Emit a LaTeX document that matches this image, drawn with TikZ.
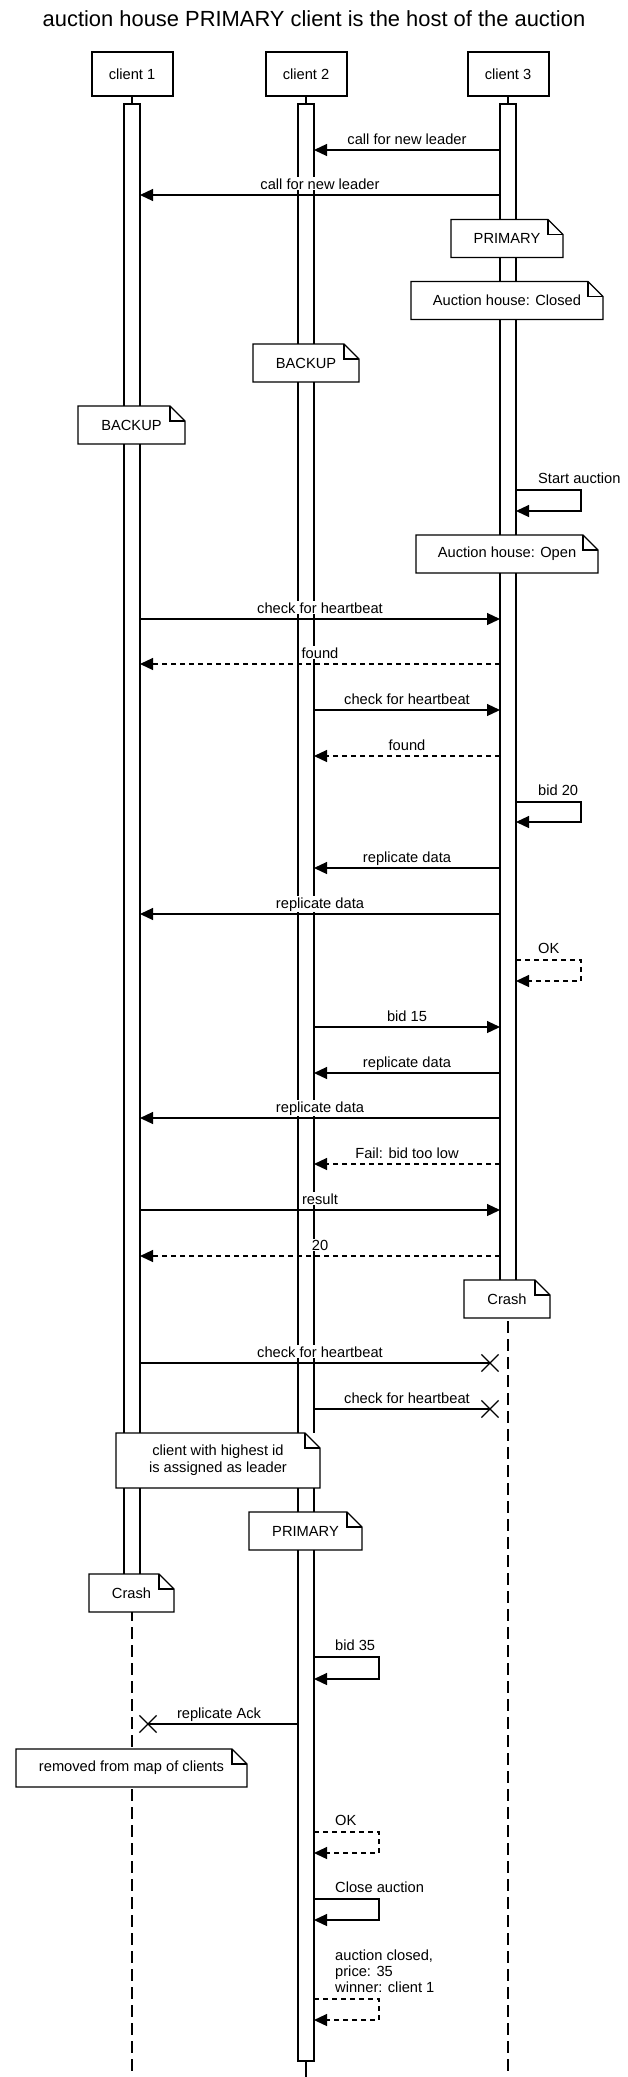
\documentclass[tikz,border=0pt]{standalone}
\usepackage{fontspec}
\setmainfont{Liberation Sans}
\usetikzlibrary{arrows.meta,calc,shapes.misc}
\tikzset{
  txt/.style={font=\fontsize{14.67}{17}\selectfont},
  lbl/.style={txt, fill=white, inner sep=1pt, anchor=base},
  notebox/.style={txt, rectangle, fill=white, draw=none, inner sep=0pt, outer sep=0pt, align=center},
  noteline/.style={line width=1.2pt, line join=miter},
  head/.style={txt, rectangle, draw, line width=2pt, minimum width=81pt, minimum height=44pt, fill=white},
  bar/.style={rectangle, draw, fill=white, line width=1.2pt, minimum width=16pt, inner sep=0pt, outer sep=0pt, anchor=north},
  msg/.style={line width=1.2pt, -{Triangle[length=13pt,width=12pt]}},
  ret/.style={msg, dash pattern=on 5pt off 4pt},
  plain/.style={line width=1.2pt},
  life/.style={line width=1.2pt, dash pattern=on 12pt off 6pt},
  xmark/.style={cross out, draw, line width=1.2pt, minimum size=16pt, inner sep=0pt},
  selflbl/.style={txt, anchor=base west, inner sep=0pt, align=left},
}
\newcommand\mynote[6]{%
  \node[notebox, minimum width=#4pt, minimum height=#5pt] (#1) at (#2,#3) {#6};
  \draw[noteline] (#1.north west) -- ([xshift=-15pt]#1.north east) -- ([yshift=-15pt]#1.north east) -- (#1.south east) -- (#1.south west) -- cycle;
  \draw[noteline] ([xshift=-15pt]#1.north east) |- ([yshift=-15pt]#1.north east);
}
\begin{document}
\begin{tikzpicture}[x=1pt,y=-1pt]
\useasboundingbox (0,0) rectangle (628,2077);
\fill[white] (0,0) rectangle (628,2077);
\node[font=\fontsize{21.9}{26}\selectfont, anchor=base, inner sep=0pt] (title) at (314,26) {auction house PRIMARY client is the host of the auction};

% heads
\node[head] (c1h) at (132,74) {client 1};
\node[head] (c2h) at (306,74) {client 2};
\node[head] (c3h) at (508,74) {client 3};

% lifelines
\coordinate (c1end) at (132,2077);
\coordinate (c2end) at (306,2077);
\coordinate (c3end) at (508,2077);
\draw[life] (c1h.south) -- (c1end);
\draw[life] (c3h.south) -- (c3end);

% activation bars
\node[bar, minimum height=1486pt] (c1bar) at (132,104) {};
\node[bar, minimum height=1957pt] (c2bar) at (306,104) {};
\node[bar, minimum height=1196pt] (c3bar) at (508,104) {};
\draw[plain] (c2h.south) -- (c2bar.north);
\draw[plain] (c2bar.south) -- (c2end);

% notes
\mynote{n1}{507}{238.5}{112}{38}{PRIMARY}
\mynote{n2}{507}{300.5}{192}{38}{Auction house: Closed}
\mynote{n3}{306}{363}{106}{38}{BACKUP}
\mynote{n4}{131.5}{425}{107}{38}{BACKUP}
\mynote{n5}{507}{554}{182}{38}{Auction house: Open}
\mynote{n6}{507}{1299}{86}{38}{Crash}
\mynote{n7}{218}{1460.5}{204}{55}{\fontsize{14.67}{16}\selectfont client with highest id\\is assigned as leader}
\mynote{n8}{305.5}{1531}{113}{38}{PRIMARY}
\mynote{n9}{131.5}{1593}{85}{38}{Crash}
\mynote{n10}{131.5}{1768}{231}{38}{removed from map of clients}

% messages
\draw[msg] (c3bar.west |- 0,150) -- node[lbl, yshift=6pt] (l1) {call for new leader} (c2bar.east |- 0,150);
\draw[msg] (c3bar.west |- 0,195) -- node[lbl, yshift=6pt] (l2) {call for new leader} (c1bar.east |- 0,195);
\draw[msg] (c3bar.east |- 0,490) -- ++(65,0) -- ++(0,21) -- (c3bar.east |- 0,511);
\node[selflbl] (l3) at (538,483) {Start auction};
\draw[msg] (c1bar.east |- 0,619) -- node[lbl, yshift=6pt] (l4) {check for heartbeat} (c3bar.west |- 0,619);
\draw[ret] (c3bar.west |- 0,664) -- node[lbl, yshift=6pt] (l5) {found} (c1bar.east |- 0,664);
\draw[msg] (c2bar.east |- 0,710) -- node[lbl, yshift=6pt] (l6) {check for heartbeat} (c3bar.west |- 0,710);
\draw[ret] (c3bar.west |- 0,756) -- node[lbl, yshift=6pt] (l7) {found} (c2bar.east |- 0,756);
\draw[msg] (c3bar.east |- 0,802) -- ++(65,0) -- ++(0,20) -- (c3bar.east |- 0,822);
\node[selflbl] (l8) at (538,795) {bid 20};
\draw[msg] (c3bar.west |- 0,868) -- node[lbl, yshift=6pt] (l9) {replicate data} (c2bar.east |- 0,868);
\draw[msg] (c3bar.west |- 0,914) -- node[lbl, yshift=6pt] (l10) {replicate data} (c1bar.east |- 0,914);
\draw[ret] (c3bar.east |- 0,960) -- ++(65,0) -- ++(0,21) -- (c3bar.east |- 0,981);
\node[selflbl] (l11) at (538,953) {OK};
\draw[msg] (c2bar.east |- 0,1027) -- node[lbl, yshift=6pt] (l12) {bid 15} (c3bar.west |- 0,1027);
\draw[msg] (c3bar.west |- 0,1073) -- node[lbl, yshift=6pt] (l13) {replicate data} (c2bar.east |- 0,1073);
\draw[msg] (c3bar.west |- 0,1118) -- node[lbl, yshift=6pt] (l14) {replicate data} (c1bar.east |- 0,1118);
\draw[ret] (c3bar.west |- 0,1164) -- node[lbl, yshift=6pt] (l15) {Fail: bid too low} (c2bar.east |- 0,1164);
\draw[msg] (c1bar.east |- 0,1210) -- node[lbl, yshift=6pt] (l16) {result} (c3bar.west |- 0,1210);
\draw[ret] (c3bar.west |- 0,1256) -- node[lbl, yshift=6pt] (l17) {20} (c1bar.east |- 0,1256);

% lost messages to crashed client 3
\node[xmark] (x1) at (490,1363) {};
\draw[plain] (c1bar.east |- x1) -- (x1.center);
\node[lbl] (l18) at ($(c1bar.east |- 0,1357)!0.5!(c3bar.west |- 0,1357)$) {check for heartbeat};
\node[xmark] (x2) at (490,1409) {};
\draw[plain] (c2bar.east |- x2) -- (x2.center);
\node[lbl] (l19) at ($(c2bar.east |- 0,1403)!0.5!(c3bar.west |- 0,1403)$) {check for heartbeat};

% client 2 as primary
\draw[msg] (c2bar.east |- 0,1657) -- ++(65,0) -- ++(0,22) -- (c2bar.east |- 0,1679);
\node[selflbl] (l20) at (335,1650) {bid 35};
\node[xmark] (x3) at (148,1724) {};
\draw[plain] (c2bar.west |- x3) -- (x3.center);
\node[lbl] (l21) at ($(c2bar.west |- 0,1718)!0.5!(c1bar.east |- 0,1718)$) {replicate Ack};
\draw[ret] (c2bar.east |- 0,1832) -- ++(65,0) -- ++(0,21) -- (c2bar.east |- 0,1853);
\node[selflbl] (l22) at (335,1825) {OK};
\draw[msg] (c2bar.east |- 0,1899) -- ++(65,0) -- ++(0,21) -- (c2bar.east |- 0,1920);
\node[selflbl] (l23) at (335,1892) {Close auction};
\draw[ret] (c2bar.east |- 0,1999) -- ++(65,0) -- ++(0,21) -- (c2bar.east |- 0,2020);
\node[selflbl, font=\fontsize{14.67}{16}\selectfont] (l24) at (335,1992) {auction closed,\\price: 35\\winner: client 1};
\end{tikzpicture}
\end{document}
